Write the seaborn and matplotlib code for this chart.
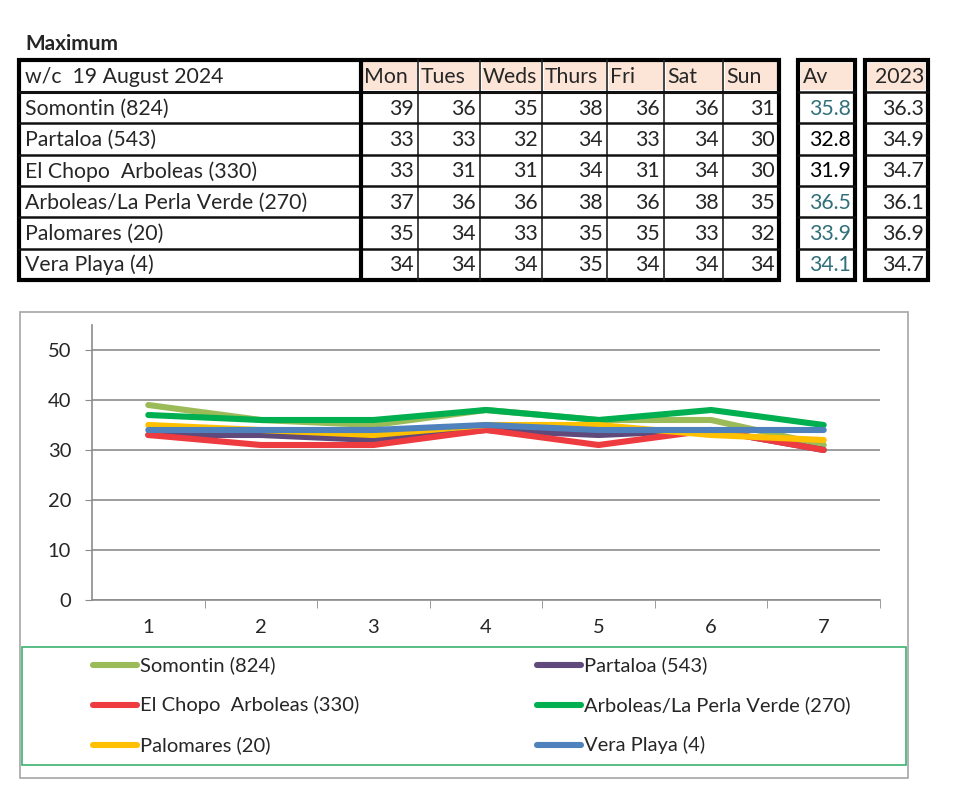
import numpy as np
import pandas as pd
import matplotlib
matplotlib.use("Agg")
import matplotlib.pyplot as plt
from matplotlib.patches import Rectangle
from matplotlib.lines import Line2D
import seaborn as sns

# ----------------------------------------------------------------------------
# Data
# ----------------------------------------------------------------------------
title = "Maximum"
week_label = "w/c  19 August 2024"
days = ["Mon", "Tues", "Weds", "Thurs", "Fri", "Sat", "Sun"]
stations = ["Somontin (824)", "Partaloa (543)", "El Chopo  Arboleas (330)",
            "Arboleas/La Perla Verde (270)", "Palomares (20)", "Vera Playa (4)"]

somontin = [39, 36, 35, 38, 36, 36, 31]
partaloa = [33, 33, 32, 34, 33, 34, 30]
el_chopo = [33, 31, 31, 34, 31, 34, 30]
perla_verde = [37, 36, 36, 38, 36, 38, 35]
palomares = [35, 34, 33, 35, 35, 33, 32]
vera_playa = [34, 34, 34, 35, 34, 34, 34]
daily = [somontin, partaloa, el_chopo, perla_verde, palomares, vera_playa]

av_values = ["35.8", "32.8", "31.9", "36.5", "33.9", "34.1"]
av_teal = [True, False, False, True, True, True]
last_year = ["36.3", "34.9", "34.7", "36.1", "36.9", "34.7"]

day_numbers = [1, 2, 3, 4, 5, 6, 7]
colors = ["#9BBB59", "#604A7B", "#EE3B3F", "#00B050", "#FFC000", "#4F81BD"]

# ----------------------------------------------------------------------------
# Figure + background axes in pixel units
# ----------------------------------------------------------------------------
sns.set_style("white")
plt.rcParams['font.family'] = ['Lato', 'DejaVu Sans']

fig = plt.figure(figsize=(9.68, 8), dpi=100)
bg = fig.add_axes([0, 0, 1, 1])
bg.set_xlim(0, 968)
bg.set_ylim(800, 0)
bg.axis('off')

peach = "#FCE4D6"
teal = "#31707A"
fs = 15.3

bg.text(25, 44, title, fontsize=15, fontweight='bold', va='center', ha='left')

# table geometry
col_edges = [19, 361, 418, 480, 542, 607, 664, 723, 779]
top, head_bot, row_h = 60, 92, 31.3
bottom = head_bot + row_h * len(stations)
av_box = (798, 855)
yr_box = (865, 928)

# header fills
for i in range(len(days)):
    bg.add_patch(Rectangle((col_edges[i + 1] + 1.5, top + 2), col_edges[i + 2] - col_edges[i + 1] - 3,
                           head_bot - top - 4, facecolor=peach, edgecolor='none'))
for x0, x1 in [av_box, yr_box]:
    bg.add_patch(Rectangle((x0 + 3, top + 3), x1 - x0 - 6, head_bot - top - 5,
                           facecolor=peach, edgecolor='none'))

# grid lines main table
for x in col_edges[2:-1]:
    bg.plot([x, x], [top, bottom], color='#222222', lw=1.2)
for r in range(1, len(stations)):
    y = head_bot + r * row_h
    bg.plot([19, 779], [y, y], color='#111111', lw=1.8)
bg.plot([19, 779], [head_bot, head_bot], color='#111111', lw=2.2)
bg.plot([361, 361], [top, bottom], color='#000000', lw=3.0)
bg.add_patch(Rectangle((19, top), 779 - 19, bottom - top, fill=False, edgecolor='#000000', lw=3.0))

# side boxes
for x0, x1 in [av_box, yr_box]:
    for r in range(0, len(stations)):
        y = head_bot + r * row_h
        bg.plot([x0, x1], [y, y], color='#111111', lw=1.8)
    bg.add_patch(Rectangle((x0, top), x1 - x0, bottom - top, fill=False, edgecolor='#000000', lw=3.0))

# header text
hy = (top + head_bot) / 2 + 1
bg.text(25, hy, week_label, fontsize=fs, va='center', ha='left')
for i, d in enumerate(days):
    bg.text(col_edges[i + 1] + 3, hy, d, fontsize=fs, va='center', ha='left')
bg.text(av_box[0] + 5, hy, "Av", fontsize=fs, va='center', ha='left')
bg.text(yr_box[1] - 4, hy, "2023", fontsize=fs, va='center', ha='right')

# body text
for r, name in enumerate(stations):
    yc = head_bot + (r + 0.5) * row_h + 1
    bg.text(25, yc, name, fontsize=fs, va='center', ha='left')
    for i, v in enumerate(daily[r]):
        bg.text(col_edges[i + 2] - 4, yc, str(v), fontsize=fs, va='center', ha='right')
    bg.text(av_box[1] - 4, yc, av_values[r], fontsize=fs, va='center', ha='right',
            color=teal if av_teal[r] else 'black')
    bg.text(yr_box[1] - 4, yc, last_year[r], fontsize=fs, va='center', ha='right')

# chart frame + legend frame
bg.add_patch(Rectangle((20, 312), 888, 466, fill=False, edgecolor='#A6A6A6', lw=1.2))
bg.add_patch(Rectangle((22, 647), 884, 118, fill=False, edgecolor='#3CB371', lw=1.2))

# ----------------------------------------------------------------------------
# Line chart
# ----------------------------------------------------------------------------
rows = []
for name, vals in zip(stations, daily):
    for d, v in zip(day_numbers, vals):
        rows.append({"day": d, "station": name, "value": v})
df = pd.DataFrame(rows)

narrow = ['Liberation Sans Narrow', 'DejaVu Sans Condensed', 'Lato']
ax = fig.add_axes([92 / 968, 1 - 600 / 800, 788 / 968, 275 / 800])
sns.lineplot(data=df, x="day", y="value", hue="station", hue_order=stations,
             palette=colors, linewidth=4.4, legend=False, ax=ax)
ax.set_xlim(0.5, 7.5)
ax.set_ylim(0, 55)
ax.set_yticks([0, 10, 20, 30, 40, 50])
ax.set_xticks(day_numbers)
ax.set_xticks([1.5, 2.5, 3.5, 4.5, 5.5, 6.5, 7.5], minor=True)
ax.grid(axis='y', color='#8C8C8C', lw=1.2)
ax.set_axisbelow(True)
for s in ['top', 'right']:
    ax.spines[s].set_visible(False)
ax.spines['left'].set_color('#8C8C8C')
ax.spines['bottom'].set_color('#8C8C8C')
ax.spines['left'].set_linewidth(1.2)
ax.spines['bottom'].set_linewidth(1.2)
ax.tick_params(axis='y', which='major', length=5, color='#8C8C8C', pad=10, left=True)
ax.tick_params(axis='x', which='major', length=0, pad=14)
ax.tick_params(axis='x', which='minor', length=6, color='#8C8C8C', bottom=True)
for lab in ax.get_xticklabels() + ax.get_yticklabels():
    lab.set_fontfamily(narrow)
    lab.set_fontsize(14.5)
ax.set_xlabel("")
ax.set_ylabel("")

# legend, two columns drawn from the same lists
for k, (name, col) in enumerate(zip(stations, colors)):
    cx = 93 if k % 2 == 0 else 537
    cy = 665 + 40 * (k // 2)
    bg.add_line(Line2D([cx, cx + 44], [cy, cy], color=col, lw=4.4))
    bg.text(cx + 47, cy, name, fontsize=14.5, va='center', ha='left', fontfamily=narrow)

fig.savefig("out.png", dpi=100)
